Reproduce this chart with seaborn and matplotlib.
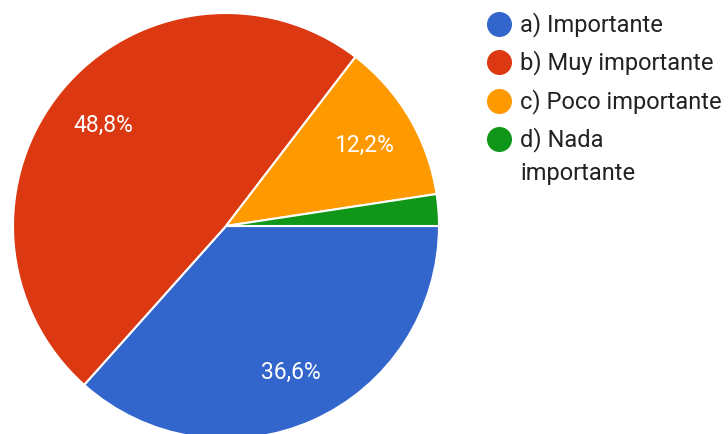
import matplotlib
matplotlib.use("Agg")
import matplotlib.pyplot as plt
from matplotlib.lines import Line2D
import seaborn as sns

# Survey answers and their shares (percent)
categories = ["a) Importante", "b) Muy importante", "c) Poco importante", "d) Nada\nimportante"]
shares = [36.6, 48.8, 12.2, 2.4]
colors = ["#3366CC", "#DC3912", "#FF9900", "#109618"]

sns.set_theme(style="white")
plt.rcParams["font.family"] = ["Roboto", "DejaVu Sans"]

W, H, DPI = 728, 435, 100
fig = plt.figure(figsize=(W / DPI, H / DPI), dpi=DPI)
fig.patch.set_facecolor("white")

# Pie: centre at (226, 227) px from top-left, radius 213 px
cx, cy, r = 226, 227, 213
ax = fig.add_axes([(cx - r) / W, (H - cy - r) / H, 2 * r / W, 2 * r / H])


def pct_label(v):
    return f"{v:.1f}%".replace(".", ",") if v >= 5 else ""


wedges, texts, autotexts = ax.pie(
    shares,
    colors=colors,
    startangle=0,
    counterclock=False,
    autopct=pct_label,
    pctdistance=0.75,
    wedgeprops=dict(edgecolor="white", linewidth=1.5),
    textprops=dict(color="white", fontsize=16.5),
)
ax.set_xlim(-1, 1)
ax.set_ylim(-1, 1)
ax.set_aspect("equal")
ax.axis("off")

# Legend: coloured dots with labels at the right
dot_x = 499 / W
text_x = 520 / W
row_y = [25, 63, 102, 140]
for cat, col, y in zip(categories, colors, row_y):
    fig.add_artist(Line2D([dot_x], [1 - y / H], marker="o", markersize=17,
                          color=col, linestyle="none", transform=fig.transFigure))
    fig.text(text_x, 1 - (y - 12.5) / H, cat, fontsize=17, color="#222222",
             ha="left", va="top", linespacing=1.55)

fig.savefig("out.png", dpi=DPI, facecolor="white")
